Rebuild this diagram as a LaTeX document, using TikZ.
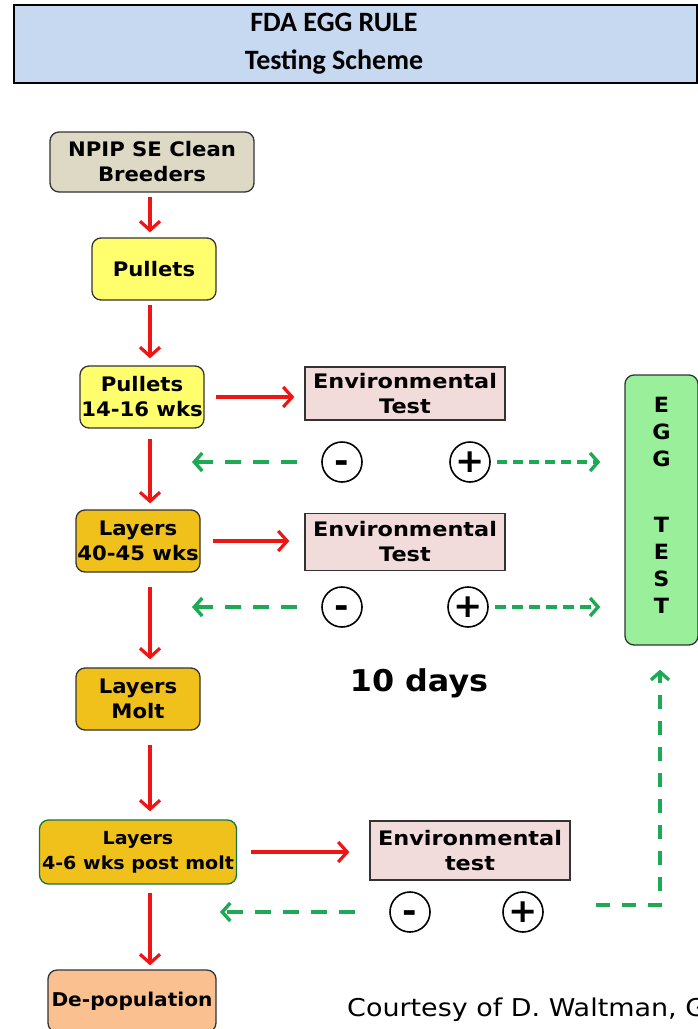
\documentclass[tikz,border=0pt]{standalone}
\usepackage{fontspec}
\usepackage{tikz}
\usetikzlibrary{arrows.meta}
\setmainfont{DejaVu Sans}
\newfontfamily\boxfont[FakeStretch=1.06]{DejaVu Sans}
\newfontfamily\envfont[FakeStretch=1.12]{DejaVu Sans}
\newfontfamily\credfont[FakeStretch=1.1]{DejaVu Sans}
\newfontfamily\titlefont{Carlito}
\definecolor{titleblue}{HTML}{C6D9F1}
\definecolor{breedgray}{HTML}{DDD9C4}
\definecolor{pulletyellow}{HTML}{FFFF6E}
\definecolor{layergold}{HTML}{EFC11A}
\definecolor{depoppeach}{HTML}{FAC090}
\definecolor{envpink}{HTML}{F2DCDB}
\definecolor{egggreen}{HTML}{9AEF9A}
\definecolor{arrowred}{HTML}{EE1515}
\definecolor{dashgreen}{HTML}{1EAA55}
\definecolor{borderdark}{HTML}{333333}

\begin{document}
\begin{tikzpicture}[x=1pt,y=-1pt,
	stage/.style={draw=borderdark,line width=1.3pt,rounded corners=9pt,align=center,
		font=\boxfont\bfseries\fontsize{20}{25}\selectfont,inner sep=0pt},
	envbox/.style={draw=borderdark,line width=1.3pt,fill=envpink,align=center,
		font=\envfont\bfseries\fontsize{20}{25}\selectfont,inner sep=0pt,
		minimum width=200pt},
	sign/.style={circle,draw=black,line width=1.6pt,minimum size=40pt,inner sep=0pt,
		font=\boxfont\bfseries\fontsize{33}{33}\selectfont},
	redarrow/.style={draw=arrowred,line width=3.2pt,-{Straight Barb[length=9pt,width=20pt]}},
	greenarrow/.style={draw=dashgreen,line width=3.4pt,dash pattern=on 16pt off 12pt,
		-{Straight Barb[length=8pt,width=18pt]}}]
\useasboundingbox (0,0) rectangle (698,1029);
\clip (0,0) rectangle (698,1029);

% title
\node [draw=black,line width=2.2pt,fill=titleblue,minimum width=683pt,minimum height=78pt,inner sep=0pt] (title) at (355.5,44) {};
\node [align=center,font=\titlefont\bfseries\fontsize{28}{38}\selectfont] (titletext) at (334,44) {FDA EGG RULE\\Testing Scheme};

% flock stages
\node [stage,fill=breedgray,minimum width=204pt,minimum height=60pt] (breeders) at (152,162) {NPIP SE Clean\\Breeders};
\node [stage,fill=pulletyellow,minimum width=124pt,minimum height=62pt] (pullets) at (154,269) {Pullets};
\node [stage,fill=pulletyellow,minimum width=124pt,minimum height=62pt] (pullets14) at (142,397) {Pullets\\14-16 wks};
\node [stage,fill=layergold,minimum width=124pt,minimum height=62pt] (layers40) at (138,541) {Layers\\40-45 wks};
\node [stage,fill=layergold,minimum width=124pt,minimum height=62pt] (molt) at (138,699) {Layers\\Molt};
\node [stage,fill=layergold,draw=dashgreen!70!black,minimum width=197pt,minimum height=64pt,
	font=\boxfont\bfseries\fontsize{18}{25}\selectfont] (postmolt) at (138,852) {Layers\\4-6 wks post molt};
\node [stage,fill=depoppeach,minimum width=168pt,minimum height=62pt,
	font=\boxfont\bfseries\fontsize{19}{25}\selectfont] (depop) at (132,1001) {De-population};

% environmental tests
\node [envbox,minimum height=53pt] (env1) at (405,393.5) {Environmental\\Test};
\node [envbox,minimum height=57pt] (env2) at (405,542) {Environmental\\Test};
\node [envbox,minimum height=59pt] (env3) at (470,850.5) {Environmental\\test};

% egg test
\node [stage,fill=egggreen,minimum width=73pt,minimum height=270pt] (eggtest) at (661.5,510) {};
\node [align=center,font=\boxfont\bfseries\fontsize{21}{27}\selectfont] (eggtext) at (661.5,505) {E\\G\\G\\[39pt]T\\E\\S\\T};

% results
\node [sign] (neg1) at (342,462) {\vphantom{+}-};
\node [sign] (pos1) at (470,462) {+};
\node [sign] (neg2) at (342,607) {\vphantom{+}-};
\node [sign] (pos2) at (468,607) {+};
\node [sign] (neg3) at (410,912) {\vphantom{+}-};
\node [sign] (pos3) at (523,912) {+};

\node [font=\boxfont\bfseries\fontsize{30}{30}\selectfont] (tendays) at (419,683) {10 days};
\node [anchor=west,font=\credfont\fontsize{24.5}{26}\selectfont,inner sep=0pt] (credit) at (347,1010) {Courtesy of D. Waltman, G};

% red arrows
\coordinate (spine) at (150,0);
\draw [redarrow,shorten <=4pt,shorten >=5pt] (breeders.south -| spine) -- (pullets.north -| spine);
\draw [redarrow,shorten <=4pt,shorten >=7pt] (pullets.south -| spine) -- (pullets14.north -| spine);
\draw [redarrow,shorten <=10pt,shorten >=6pt] (pullets14.south -| spine) -- (layers40.north -| spine);
\draw [redarrow,shorten <=14pt,shorten >=8pt] (layers40.south -| spine) -- (molt.north -| spine);
\draw [redarrow,shorten <=14pt,shorten >=8pt] (molt.south -| spine) -- (postmolt.north -| spine);
\draw [redarrow,shorten <=8pt,shorten >=4pt] (postmolt.south -| spine) -- (depop.north -| spine);
\draw [redarrow,shorten <=11pt,shorten >=10pt] (pullets14.east) -- (env1.west |- pullets14.east);
\draw [redarrow,shorten <=12pt,shorten >=15pt] (layers40.east) -- (env2.west |- layers40.east);
\draw [redarrow,shorten <=14pt,shorten >=20pt] (postmolt.east) -- (env3.west |- postmolt.east);

% green arrows
\coordinate (back1) at (192,462);
\coordinate (back2) at (192,607);
\coordinate (back3) at (220,912);
\coordinate (corner) at (660,905);
\draw [greenarrow,shorten <=24pt] (neg1.west) -- (back1);
\draw [greenarrow,shorten <=24pt] (neg2.west) -- (back2);
\draw [greenarrow,shorten <=34pt] (neg3.west) -- (back3);
\draw [greenarrow,dash pattern=on 10pt off 6pt,shorten <=6pt,shorten >=24pt] (pos1.east) -- (eggtest.west |- pos1.east);
\draw [greenarrow,dash pattern=on 11pt off 6pt,shorten <=6pt,shorten >=24pt] (pos2.east) -- (eggtest.west |- pos2.east);
\draw [greenarrow,dash pattern=on 14pt off 12pt,shorten <=52pt,shorten >=24pt] (pos3.east |- corner) -- (corner) -- (corner |- eggtest.south);
\end{tikzpicture}
\end{document}
